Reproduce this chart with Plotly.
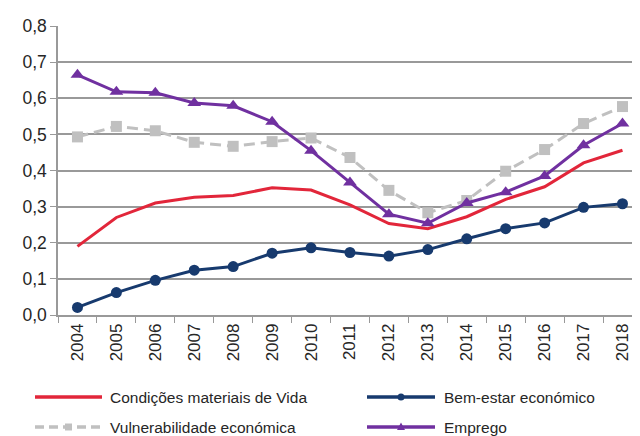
import plotly.graph_objects as go

years = [str(y) for y in range(2004, 2019)]
condicoes = [0.190, 0.270, 0.310, 0.326, 0.331, 0.352, 0.346, 0.305, 0.253, 0.239, 0.272, 0.320, 0.355, 0.421, 0.456]
bem_estar = [0.021, 0.062, 0.096, 0.124, 0.134, 0.171, 0.186, 0.173, 0.163, 0.181, 0.211, 0.239, 0.255, 0.298, 0.308]
vulnerab = [0.493, 0.522, 0.510, 0.478, 0.467, 0.480, 0.490, 0.436, 0.345, 0.283, 0.317, 0.398, 0.458, 0.530, 0.577]
emprego = [0.665, 0.618, 0.615, 0.587, 0.579, 0.535, 0.455, 0.367, 0.279, 0.254, 0.310, 0.340, 0.385, 0.470, 0.530]
y_ticks = [0.0, 0.1, 0.2, 0.3, 0.4, 0.5, 0.6, 0.7, 0.8]
series_names = ["Condições materiais de Vida", "Bem-estar económico", "Vulnerabilidade económica", "Emprego"]

RED, NAVY, GRAY, PURPLE = "#E2263A", "#173A6E", "#C0C0C0", "#7030A0"
OFF = 8  # default page body margin
W, H = 640 - OFF, 436 - OFF
L, R, T, B = 58 - OFF, 0, 26 - OFF, 121
PW, PH = W - L - R, H - T - B

fig = go.Figure()
fig.add_trace(go.Scatter(x=years, y=condicoes, name=series_names[0], mode="lines",
                         line=dict(color=RED, width=3)))
fig.add_trace(go.Scatter(x=years, y=bem_estar, name=series_names[1], mode="lines+markers",
                         line=dict(color=NAVY, width=3), marker=dict(size=11, color=NAVY)))
fig.add_trace(go.Scatter(x=years, y=vulnerab, name=series_names[2], mode="lines+markers",
                         line=dict(color=GRAY, width=3, dash="11px,6px"),
                         marker=dict(size=11, symbol="square", color=GRAY)))
fig.add_trace(go.Scatter(x=years, y=emprego, name=series_names[3], mode="lines+markers",
                         line=dict(color=PURPLE, width=3),
                         marker=dict(size=12, symbol="triangle-up", color=PURPLE)))

# manual legend (decoration) in paper coordinates; inputs are page pixels
def px(xp):
    return (xp - OFF - L) / PW

def py(yp):
    return (H - B - (yp - OFF)) / PH

shapes = []
annotations = []
legend_items = [
    (series_names[0], RED, "solid", None, 35, 102, 108, 397),
    (series_names[1], NAVY, "solid", "circle", 367, 435, 442, 397),
    (series_names[2], GRAY, "9px,5px", "square", 35, 102, 108, 427),
    (series_names[3], PURPLE, "solid", "triangle", 367, 435, 442, 427),
]
for name, col, dash, sym, x0, x1, tx, yc in legend_items:
    shapes.append(dict(type="line", xref="paper", yref="paper", x0=px(x0), x1=px(x1),
                       y0=py(yc), y1=py(yc), line=dict(color=col, width=3.5, dash=dash)))
    xm = (x0 + x1) / 2
    if sym == "circle":
        shapes.append(dict(type="circle", xref="paper", yref="paper", x0=px(xm - 3.5), x1=px(xm + 3.5),
                           y0=py(yc + 3.5), y1=py(yc - 3.5), fillcolor=col, line=dict(width=0)))
    elif sym == "square":
        shapes.append(dict(type="rect", xref="paper", yref="paper", x0=px(xm - 3.5), x1=px(xm + 3.5),
                           y0=py(yc + 3.5), y1=py(yc - 3.5), fillcolor=col, line=dict(width=0)))
    elif sym == "triangle":
        path = "M {},{} L {},{} L {},{} Z".format(px(xm - 4), py(yc + 3), px(xm + 4), py(yc + 3),
                                                  px(xm), py(yc - 4.5))
        shapes.append(dict(type="path", xref="paper", yref="paper", path=path,
                           fillcolor=col, line=dict(width=0)))
    annotations.append(dict(text=name, xref="paper", yref="paper", x=px(tx), y=py(yc),
                            xanchor="left", yanchor="middle", showarrow=False,
                            font=dict(size=15.5, color="#262626")))

fig.update_layout(
    width=W, height=H,
    margin=dict(l=L, r=R, t=T, b=B, autoexpand=False),
    paper_bgcolor="white", plot_bgcolor="white",
    separators=",.",
    font=dict(family="Liberation Sans", size=17, color="#262626"),
    showlegend=False,
    shapes=shapes,
    annotations=annotations,
)
fig.update_xaxes(type="category", range=[-0.5, 14.45], tickangle=-90,
                 showline=True, linecolor="#999", linewidth=1.5,
                 ticks="outside", tickson="boundaries", ticklen=6, tickcolor="#999",
                 showgrid=False, tickfont=dict(size=17), automargin=False)
fig.update_yaxes(range=[0, 0.8], tickvals=y_ticks, tickformat=".1f",
                 showline=True, linecolor="#999", linewidth=1.5,
                 ticks="outside", ticklen=6, tickcolor="#999",
                 showgrid=True, gridcolor="#999", gridwidth=1.5,
                 zeroline=False, tickfont=dict(size=17.5), automargin=False)

fig.write_html("out.html")
